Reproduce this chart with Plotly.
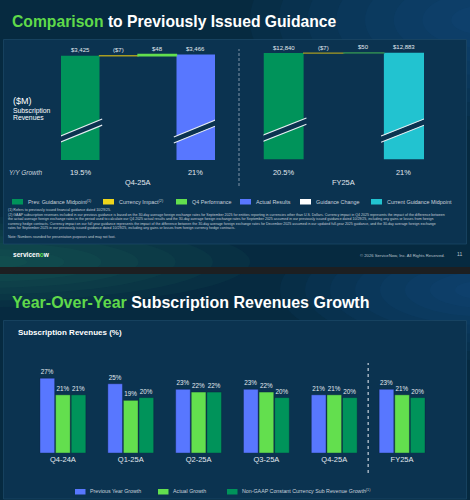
import plotly.graph_objects as go

W, H = 470, 500


def X(p):
    return p / W


def Y(p):
    return 1 - p / H


# ---------------- data ----------------
q4_steps = ["Prev. Guidance Midpoint", "Currency Impact", "Q4 Performance", "Actual Results"]
q4_measures = ["absolute", "relative", "relative", "total"]
q4_values = [3425, -7, 48, 3466]
q4_labels = ["$3,425", "($7)", "$48", "$3,466"]
q4_growth = ["19.5%", "", "", "21%"]
q4_period = "Q4-25A"

fy_steps = ["Prev. Guidance Midpoint", "Currency Impact", "Guidance Change", "Current Guidance Midpoint"]
fy_measures = ["absolute", "relative", "relative", "total"]
fy_values = [12840, -7, 50, 12883]
fy_labels = ["$12,840", "($7)", "$50", "$12,883"]
fy_growth = ["20.5%", "", "", "21%"]
fy_period = "FY25A"

periods = ["Q4-24A", "Q1-25A", "Q2-25A", "Q3-25A", "Q4-25A", "FY25A"]
prev_year_growth = [27, 25, 23, 23, 21, 23]
actual_growth = [21, 19, 22, 22, 21, 21]
cc_growth = [21, 20, 22, 20, 20, 20]

top_legend_labels = ["Prev. Guidance Midpoint<sup>(1)</sup>", "Currency Impact<sup>(2)</sup>",
                     "Q4 Performance", "Actual Results", "Guidance Change", "Current Guidance Midpoint"]
bottom_legend_labels = ["Previous Year Growth", "Actual Growth",
                        "Non-GAAP Constant Currency Sub Revenue Growth<sup>(1)</sup>"]

footnotes = [
    "(1) Refers to previously issued financial guidance dated 10/29/25.",
    "(2) GAAP subscription revenues included in our previous guidance is based on the 30-day average foreign exchange rates for September 2025 for entities reporting in currencies other than U.S. Dollars. Currency impact in Q4 2025 represents the impact of the difference between",
    "the actual average foreign exchange rates in the period used to calculate our Q4 2025 actual results and the 30-day average foreign exchange rates for September 2025 assumed in our previously issued guidance dated 10/29/25, including any gains or losses from foreign",
    "currency hedge contracts. Currency impact on our full year guidance represents the impact of the difference between the 30-day average foreign exchange rates for December 2025 assumed in our updated full-year 2025 guidance, and the 30-day average foreign exchange",
    "rates for September 2025 in our previously issued guidance dated 10/29/25, including any gains or losses from foreign currency hedge contracts.",
]
note_text = "Note: Numbers rounded for presentation purposes and may not foot."

# ---------------- styles ----------------
FONT = "Liberation Sans, Arial, sans-serif"
DKGREEN = "#00935a"
LTGREEN = "#63df4e"
BLUE = "#5877ff"
CYAN = "#22c3d0"
YELLOW = "#eed51c"
FXLINE = "#a89c22"
GUIDE = "#2b7f52"
TITLE_GREEN = "#5fd94a"
TEXT = "#e3e9ef"
LEG = "#c9d2dc"
PANEL = "#0b3350"
BG = "#062a40"

q4_colors = [DKGREEN, FXLINE, LTGREEN, BLUE]
fy_colors = [DKGREEN, FXLINE, GUIDE, CYAN]
top_legend_colors = [DKGREEN, YELLOW, LTGREEN, BLUE, "#ffffff", CYAN]
bottom_colors = [BLUE, LTGREEN, DKGREEN]

fig = go.Figure()
shapes = []
annotations = []


def ann(text, x, y, size, color=TEXT, xanchor="left", yanchor="middle", xref="paper", yref="paper", **kw):
    d = dict(text=text, x=x, y=y, xref=xref, yref=yref, showarrow=False, xanchor=xanchor,
             yanchor=yanchor, font=dict(size=size, color=color, family=FONT), borderpad=0)
    d.update(kw)
    annotations.append(d)


# ---------------- backgrounds ----------------
shapes.append(dict(type="rect", xref="paper", yref="paper", x0=0, x1=1, y0=0, y1=Y(274),
                   fillcolor=BG, line_width=0, layer="below"))
for k in range(8):
    f = 1 - k / 8
    shapes.append(dict(type="circle", xref="paper", yref="paper",
                       x0=X(480 - 200 * f), x1=X(480 + 200 * f), y0=Y(290 + 70 * f), y1=Y(290 - 70 * f),
                       fillcolor="#1a6aa5", opacity=0.07, line_width=0, layer="below"))
shapes.append(dict(type="rect", xref="paper", yref="paper", x0=0, x1=1, y0=Y(267), y1=1,
                   fillcolor=BG, line_width=0, layer="below"))
for k in range(8):
    f = 1 - k / 8
    shapes.append(dict(type="circle", xref="paper", yref="paper",
                       x0=X(480 - 230 * f), x1=X(480 + 230 * f), y0=Y(20 + 110 * f), y1=Y(20 - 110 * f),
                       fillcolor="#1a6aa5", opacity=0.07, line_width=0, layer="below"))
for k in range(7):
    f = 1 - k / 7
    shapes.append(dict(type="circle", xref="paper", yref="paper",
                       x0=X(-10 - 260 * f), x1=X(-10 + 260 * f), y0=Y(262 + 45 * f), y1=Y(262 - 45 * f),
                       fillcolor="#2a8060", opacity=0.08, line_width=0, layer="below"))
shapes.append(dict(type="rect", xref="paper", yref="paper", x0=0, x1=1, y0=Y(274), y1=Y(267),
                   fillcolor="#1d1f21", line_width=0, layer="below"))
shapes.append(dict(type="rect", xref="paper", yref="paper", x0=X(3.5), x1=X(466.5), y0=Y(244), y1=Y(39.5),
                   fillcolor=PANEL, line=dict(color="#1a4664", width=0.8), layer="below"))
shapes.append(dict(type="rect", xref="paper", yref="paper", x0=X(3.5), x1=X(466.5), y0=Y(499), y1=Y(320.5),
                   fillcolor=PANEL, line=dict(color="#1a4664", width=0.8), layer="below"))


# ---------------- top waterfalls ----------------
def waterfall(steps, measures, values, labels, growth, colors, xa, ya, period):
    xref, yref = xa, ya
    running = 0
    bx, by, bc = [], [], []
    for i, (s, m, v, lab, c) in enumerate(zip(steps, measures, values, labels, colors)):
        if m in ("absolute", "total"):
            bx.append(s)
            by.append(v)
            bc.append(c)
            running = v
            top = v
            for off, col, wd in [(0, PANEL, 5.5), (0.028, "#e6ecf2", 1.1), (-0.028, "#e6ecf2", 1.1)]:
                shapes.append(dict(type="line", xref=xref, yref=yref + " domain",
                                   x0=i - 0.57, x1=i + 0.57, y0=0.182 + off, y1=0.345 + off,
                                   line=dict(color=col, width=wd), layer="above"))
        else:
            y0, y1 = running, running + v
            shapes.append(dict(type="rect", xref=xref, yref=yref, x0=i - 0.5, x1=i + 0.5,
                               y0=y0, y1=y1, fillcolor=c, line=dict(color=c, width=1.3), layer="above"))
            running = y1
            top = max(y0, y1)
        ann(lab, s, top, 6, xref=xref, yref=yref, xanchor="center", yanchor="bottom", yshift=1.5)
        if growth[i]:
            ann(growth[i], s, Y(172), 7.4, xref=xref, xanchor="center")
    fig.add_trace(go.Bar(x=bx, y=by, marker=dict(color=bc, line_width=0), width=1,
                         xaxis=xa, yaxis=ya, hoverinfo="skip", showlegend=False))
    ann(period, 0.5, Y(182), 7.4, xref=xref + " domain", xanchor="center")


# ---------------- bottom grouped bars (primary axes) ----------------
for name, vals, col in zip(bottom_legend_labels, [prev_year_growth, actual_growth, cc_growth], bottom_colors):
    fig.add_trace(go.Bar(x=periods, y=vals, name=name, xaxis="x", yaxis="y",
                         marker=dict(color=col, line=dict(color="rgba(10,30,60,0.45)", width=0.8)),
                         text=[f"{v}%" for v in vals], textposition="outside", constraintext="none",
                         textfont=dict(size=6.3, color=TEXT, family=FONT), cliponaxis=False,
                         hoverinfo="skip", showlegend=False))

waterfall(q4_steps, q4_measures, q4_values, q4_labels, q4_growth, q4_colors, "x2", "y2", q4_period)
waterfall(fy_steps, fy_measures, fy_values, fy_labels, fy_growth, fy_colors, "x3", "y3", fy_period)

shapes.append(dict(type="line", xref="paper", yref="paper", x0=X(239), x1=X(239), y0=Y(186), y1=Y(49),
                   line=dict(color="#7f93a6", width=1, dash="3px,2px")))
shapes.append(dict(type="line", xref="x", yref="paper", x0=4.5, x1=4.5, y0=Y(473), y1=Y(363),
                   line=dict(color="#b9c5d1", width=1.3, dash="dot")))

# ---------------- texts ----------------
ann("<b><span style='color:%s'>Comparison</span> to Previously Issued Guidance</b>" % TITLE_GREEN,
    X(11), Y(21.5), 15.7, color="#ffffff")
ann("<b><span style='color:%s'>Year-Over-Year</span> Subscription Revenues Growth</b>" % TITLE_GREEN,
    X(11), Y(302), 16, color="#ffffff")
ann("<b>Subscription Revenues (%)</b>", X(17), Y(332), 8, color="#ffffff")

ann("($M)", X(12), Y(101), 9, color="#ffffff")
ann("Subscription", X(12), Y(110.7), 6.8, color="#ffffff")
ann("Revenues", X(12), Y(117.7), 6.8, color="#ffffff")
ann("<i>Y/Y Growth</i>", X(8), Y(172), 6.5, color=LEG)

top_leg_x = [12, 103, 176, 240, 300, 371]
for lx, lab, col in zip(top_leg_x, top_legend_labels, top_legend_colors):
    shapes.append(dict(type="rect", xref="paper", yref="paper", x0=X(lx), x1=X(lx + 11), y0=Y(204.5), y1=Y(199),
                       fillcolor=col, line_width=0))
    ann(lab, X(lx + 15), Y(201.5), 5.4, color=LEG)

for i, line in enumerate(footnotes):
    ann(line, X(7), Y(210 + 4.6 * i), 3.55, color="#c3ccd6")
ann(note_text, X(7), Y(236.7), 3.55, color="#c3ccd6")

ann("<b>servicen<span style='color:%s'>o</span>w</b>" % TITLE_GREEN, X(12), Y(254), 6.6, color="#ffffff")
ann("© 2026 ServiceNow, Inc. All Rights Reserved.", X(359), Y(255), 4.2, color="#b8c2cc")
ann("11", X(456), Y(254), 5, color="#b8c2cc")

bot_leg_x = [75, 158, 227]
for lx, lab, col in zip(bot_leg_x, bottom_legend_labels, bottom_colors):
    shapes.append(dict(type="rect", xref="paper", yref="paper", x0=X(lx), x1=X(lx + 10.5), y0=Y(494.5), y1=Y(489),
                       fillcolor=col, line_width=0))
    ann(lab, X(lx + 14), Y(491), 5.3, color=LEG)

# ---------------- layout ----------------
q4_top = max(q4_values)
fy_top = max(fy_values)
fig.update_layout(
    template="none",
    width=W, height=H, autosize=False,
    margin=dict(l=0, r=0, t=0, b=0, pad=0, autoexpand=False),
    paper_bgcolor=BG, plot_bgcolor="rgba(0,0,0,0)",
    barmode="group", bargap=0.31, bargroupgap=0.06,
    showlegend=False,
    font=dict(family=FONT, color=TEXT),
    xaxis=dict(domain=[X(29), X(436)], type="category", range=[-0.5, 5.5], anchor="y",
               showgrid=False, zeroline=False, showline=False, ticks="",
               tickfont=dict(size=7.5, color=TEXT, family=FONT)),
    yaxis=dict(domain=[Y(453), Y(360)], range=[0, 93 / 2.77], anchor="x",
               showgrid=False, zeroline=False, showline=False, showticklabels=False, ticks=""),
    xaxis2=dict(domain=[X(61), X(215)], type="category", categoryorder="array", categoryarray=q4_steps,
                range=[-0.5, 3.5], visible=False, anchor="y2"),
    yaxis2=dict(domain=[Y(160), Y(50)], range=[0, q4_top * 110 / 105.5], visible=False, anchor="x2"),
    xaxis3=dict(domain=[X(263.5), X(424)], type="category", categoryorder="array", categoryarray=fy_steps,
                range=[-0.5, 3.5], visible=False, anchor="y3"),
    yaxis3=dict(domain=[Y(159.5), Y(48)], range=[0, fy_top * 111.5 / 106.8], visible=False, anchor="x3"),
    shapes=shapes,
    annotations=annotations,
)

fig.write_html("out.html")
